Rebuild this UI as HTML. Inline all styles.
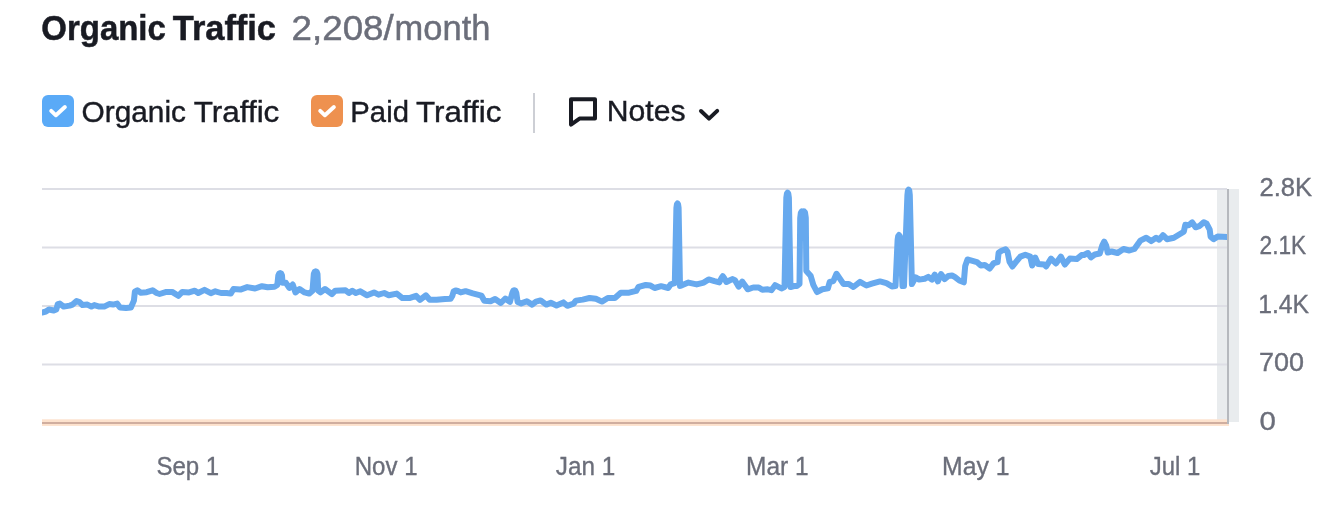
<!DOCTYPE html>
<html><head><meta charset="utf-8">
<style>
html,body{margin:0;padding:0;background:#fff;}
body{width:1318px;height:506px;overflow:hidden;position:relative;font-family:"Liberation Sans",Arial,sans-serif;}
svg{position:absolute;left:0;top:0;}
text{font-family:"Liberation Sans",Arial,sans-serif;}
.t1{font-weight:700;font-size:34.4px;fill:#191b23;stroke:#191b23;stroke-width:0.5px;}
.t2{font-size:34.2px;fill:#6b6e7a;stroke:#6b6e7a;stroke-width:0.45px;}
.lg{font-size:29.6px;fill:#191b23;stroke:#191b23;stroke-width:0.4px;}
.yl{font-size:25.2px;fill:#6b6e7a;stroke:#6b6e7a;stroke-width:0.35px;}
.xl{font-size:25.4px;fill:#6b6e7a;stroke:#6b6e7a;stroke-width:0.35px;}
</style></head><body>
<svg width="1318" height="506" viewBox="0 0 1318 506">
<text x="41.33" y="39.9" class="t1" textLength="124.49" lengthAdjust="spacingAndGlyphs">Organic</text>
<text x="172.81" y="39.9" class="t1" textLength="103.19" lengthAdjust="spacingAndGlyphs">Traffic</text>
<text x="291.6" y="39.9" class="t2" textLength="102.12" lengthAdjust="spacingAndGlyphs">2,208/</text>
<text x="394.62" y="39.9" class="t2" textLength="95.78" lengthAdjust="spacingAndGlyphs">month</text>

<rect x="42" y="95" width="32" height="32" rx="6" fill="#5aaaf7"/>
<path d="M51.2 110.8 L55.9 115.3 L64.9 107" fill="none" stroke="#fff" stroke-width="3.9" stroke-linecap="round" stroke-linejoin="round"/>
<text x="81.57" y="121.7" class="lg" textLength="104.4" lengthAdjust="spacingAndGlyphs">Organic</text>
<text x="193.7" y="121.7" class="lg" textLength="85.67" lengthAdjust="spacingAndGlyphs">Traffic</text>

<rect x="311" y="95" width="32" height="32" rx="6" fill="#ee914f"/>
<path d="M320.2 110.8 L324.9 115.3 L333.9 107" fill="none" stroke="#fff" stroke-width="3.9" stroke-linecap="round" stroke-linejoin="round"/>
<text x="350.36" y="121.7" class="lg" textLength="58.56" lengthAdjust="spacingAndGlyphs">Paid</text>
<text x="416.08" y="121.7" class="lg" textLength="85.35" lengthAdjust="spacingAndGlyphs">Traffic</text>

<rect x="533" y="93" width="2" height="40" fill="#cdcfd5"/>

<path d="M571 99.2 H595 V118.6 H579.5 L571 124.6 Z" fill="none" stroke="#191b23" stroke-width="4" stroke-linejoin="round"/>
<text x="606.75" y="121.0" class="lg" textLength="78.75" lengthAdjust="spacingAndGlyphs">Notes</text>
<path d="M701 111 L709 118.6 L717.2 110.9" fill="none" stroke="#191b23" stroke-width="4" stroke-linecap="round" stroke-linejoin="round"/>

<defs><clipPath id="pc"><rect x="42" y="150" width="1185" height="300"/></clipPath></defs>
<rect x="1217" y="189" width="22" height="233" fill="#e9ecee"/>
<rect x="42" y="188" width="1185" height="2" fill="#dddee5"/>
<rect x="42" y="246.5" width="1185" height="2" fill="#dddee5"/>
<rect x="42" y="305" width="1185" height="2" fill="#dddee5"/>
<rect x="42" y="363.5" width="1185" height="2" fill="#dddee5"/>
<rect x="42" y="419.3" width="1187" height="6.6" fill="#fde2cd"/>
<rect x="42" y="422" width="1187" height="2" fill="#d0ae9f"/>
<polyline clip-path="url(#pc)" points="42,312.5 45.9,311.5 48.9,309.5 53.8,310.5 56.3,309.5 57.8,304.1 59.8,303.6 63.7,306.6 69.6,305.6 72.6,304.6 76.6,301.1 79.5,302.1 82.5,305.1 87.4,304.6 91.4,306.6 94.3,305.1 99.3,306.6 104.2,306.6 109.2,304.1 113.1,304.6 117.1,303.6 120,307.5 126,308 130.9,307.5 133.9,300.6 134.9,291.7 137.3,290.3 140.8,292.7 146.7,292.2 152.6,290.3 156.6,293 159.6,294 166.4,291.9 172.1,291.9 178.3,295.8 182.3,291.9 189.1,292.4 194.8,290.7 198.2,293 204.5,289.8 210.8,293.2 215.3,291.3 221,293 226.7,293 230.7,293.6 233.5,289 240.4,289.6 247.2,287.1 255.1,288.5 262,286.2 267.7,287.3 274.5,286.7 277.3,285 278.3,275.5 279.2,273.6 280.2,273 281.2,273.6 282,275.5 282.5,282.8 285.9,282.8 289.3,287.9 292.7,284.5 295.5,292.4 299.5,289 304.6,292.4 309.1,293.6 312.5,290.7 313.8,274 314.7,271.8 315.7,271.2 316.7,271.8 317.5,274 318.2,290.7 320.5,292.4 325,289 331.9,294.1 335.3,290.7 345.5,290.2 348.9,293 352.3,290.7 355.8,293 360.3,291.3 367.1,295.3 374,292.4 378.5,294.7 384.2,293 388.8,295.3 396.7,293.6 402.4,298.1 409.3,298.1 416.1,295.8 420,299.8 425.8,295.3 429.7,299.8 436.6,299.8 445,299 450.5,298.8 452.3,296 453.6,291.5 455.6,290.5 457.8,291 460.7,292.4 465.6,291.2 472.8,293.4 481.4,295.6 484.3,300.7 490.5,301.3 495.1,299 500.8,303 505.3,298.5 509.9,301.9 512.3,293 513.3,290.8 514.3,290.3 515.3,290.8 516.3,293 517.6,301.9 521.2,303.4 526.9,301.3 532.1,304.6 536,301.6 540.6,300.4 546.3,304.6 550.8,302.8 556.5,305.4 563.4,302.4 567.3,305.8 573.6,303.6 575.9,300.6 582.7,299.6 589.5,298 595.9,298.8 601.9,301.6 607.8,298 614.9,298 620.8,292.7 629.1,292.7 636.2,290.9 638.6,286.8 645.7,285 650.5,285.6 654.6,288 661.1,286.2 668.3,288 670.6,284.4 674.8,283.2 676.4,208 676.9,204.3 677.5,203.5 678.1,204.3 678.6,208 680,286 681.3,285.6 688.4,282.6 696.7,284.4 703.8,282.6 708.6,279.4 714.5,281.2 719.3,282.4 721.5,278 722.8,276.2 724.1,278 726.4,282 732.3,279.1 735,280.2 738.6,286.6 742.3,281.6 747.7,289.3 753.2,287.5 758.7,287.5 762.3,289.8 767.8,289.3 771.4,290.2 775.1,285.2 781.4,288.4 784.5,287 786.3,198 786.9,193.6 787.6,192.7 788.3,193.6 788.9,198 790.5,287 794,286 797,286 799.5,284 800.2,218 800.8,213 801.8,211.3 802.5,213 802.6,238 803,214 804,211.3 805,212.5 805.8,218 806.3,271 810.6,275.7 813.3,284.8 817,292 822.4,289.3 827.9,288.4 829.7,282 833.3,281.1 836.5,273.8 839.7,278.4 843.4,283.9 848.8,283.9 853.4,287 860,281.9 866.4,285.5 871.9,283.7 880,281.4 886.4,283.2 891.9,286.4 895.5,286 897.6,240 898.2,236 899,235 899.8,236 900.4,240 902.5,286 904,286 907.4,195 907.9,190.5 908.6,189.6 909.3,190.5 909.8,195 911.9,284.1 915.6,277.3 919.2,279.6 924.7,278.7 928.3,276.9 931.9,279.6 934.7,274.6 937.9,281.4 941,274.1 944.7,279.1 948.3,275.9 952,275.5 954.7,276.9 959.3,280.5 963.8,282.3 965.2,265.9 967.5,259.5 969.9,260.1 976.9,262.1 980.8,265.5 984.8,265 989.7,268.5 993.7,263.1 997.6,262.1 998.6,252.7 1001.6,250.7 1005.5,249.2 1007.5,251.7 1009.5,261.6 1012.4,266.5 1015.4,262.6 1020.4,256.6 1025.3,254.7 1030.2,256.6 1032.2,265.5 1035.2,257.6 1038.1,264 1044.1,264.5 1046.1,266.5 1051,258.6 1055.9,263.5 1060.9,256.6 1064.8,264.5 1069.8,258.6 1076.7,259.1 1081.6,255.1 1084,255 1087.9,253 1090.9,257.4 1094.8,254.5 1099.8,253.5 1102.2,245.6 1104.2,241.6 1106.2,245.6 1107.7,252.5 1111.6,251.5 1117.6,253 1123.5,249 1129.4,250.5 1134.4,249 1138.3,243.6 1140.3,240.6 1146.2,237.7 1151.2,241.1 1156.1,237.7 1159.1,239.7 1163,235.2 1167,239.2 1173.9,237.7 1178.8,234.7 1183.8,231.7 1185.3,224.8 1188.7,225.3 1192.2,222.4 1195.6,227.3 1199.8,225.8 1203.7,222.3 1206.7,223.8 1209.7,229.7 1210.6,236.6 1213.6,239.1 1217.6,236.6 1229,237.1" fill="none" stroke="#67a9ee" stroke-width="6" stroke-linejoin="round" stroke-linecap="round"/>
<rect x="1227" y="189" width="2" height="235" fill="#b6b9be"/>
<text x="1259.5" y="195.6" class="yl" textLength="52.72" lengthAdjust="spacingAndGlyphs">2.8K</text>
<text x="1259.54" y="254.1" class="yl" textLength="46.67" lengthAdjust="spacingAndGlyphs">2.1K</text>
<text x="1258.23" y="312.6" class="yl" textLength="50.89" lengthAdjust="spacingAndGlyphs">1.4K</text>
<text x="1258.9" y="371.1" class="yl" textLength="45.04" lengthAdjust="spacingAndGlyphs">700</text>
<text x="1259.4" y="429.6" class="yl" textLength="16.34" lengthAdjust="spacingAndGlyphs">0</text>
<text x="156.44" y="474.6" class="xl" textLength="62.69" lengthAdjust="spacingAndGlyphs">Sep 1</text>
<text x="354.75" y="474.6" class="xl" textLength="62.81" lengthAdjust="spacingAndGlyphs">Nov 1</text>
<text x="555.77" y="474.6" class="xl" textLength="59.45" lengthAdjust="spacingAndGlyphs">Jan 1</text>
<text x="746.01" y="474.6" class="xl" textLength="62.58" lengthAdjust="spacingAndGlyphs">Mar 1</text>
<text x="942.0" y="474.6" class="xl" textLength="67.5" lengthAdjust="spacingAndGlyphs">May 1</text>
<text x="1149.78" y="474.6" class="xl" textLength="50.51" lengthAdjust="spacingAndGlyphs">Jul 1</text>
</svg>
</body></html>
